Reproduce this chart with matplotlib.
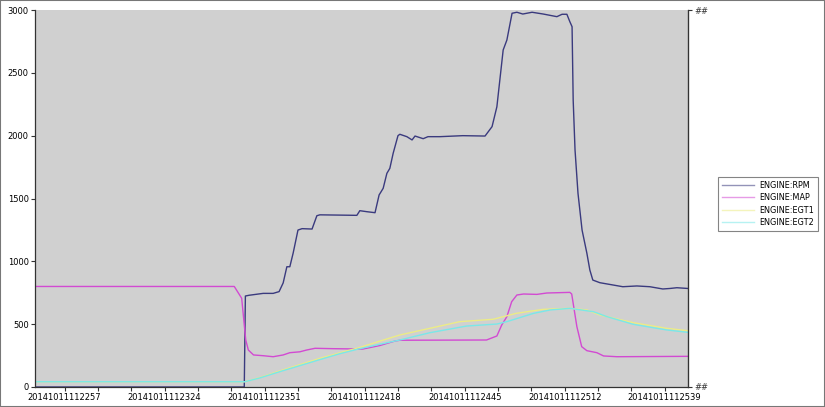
import matplotlib
matplotlib.use("Agg")
import matplotlib.pyplot as plt
from matplotlib.patches import Rectangle
from matplotlib.ticker import FuncFormatter, FixedLocator

# time axis: seconds after 11:22:49 on 2014-10-11
rpm_t = [0, 56.5, 56.8, 57.8, 61.6, 64.3, 65.9, 67.0, 68.0, 68.8, 69.7, 71.0, 72.1, 74.8, 76.1, 76.9,
         86.9, 87.7, 89.6, 91.8, 92.9, 94.0, 95.0, 95.8, 96.7, 98.0, 98.5, 100.4, 101.8, 102.6, 104.8,
         106.1, 109.3, 115.5, 121.5, 123.4, 124.7, 125.5, 126.4, 127.4, 128.8, 130.1, 131.7, 134.2,
         137.2, 140.9, 142.3, 143.6, 144.4, 145.0, 145.3, 145.8, 146.6, 147.7, 149.0, 149.8, 150.6,
         152.5, 156.0, 158.7, 162.5, 166.0, 169.5, 171.4, 173.3, 176.3]
rpm = [0, 0, 724, 730, 745, 745, 759, 828, 957, 957, 1066, 1249, 1260, 1257, 1363, 1370,
       1366, 1403, 1395, 1387, 1528, 1581, 1700, 1740, 1860, 2000, 2011, 1992, 1966, 1997, 1976,
       1992, 1992, 2000, 1997, 2072, 2230, 2443, 2682, 2761, 2974, 2982, 2968, 2982,
       2968, 2947, 2966, 2966, 2907, 2867, 2284, 1886, 1541, 1249, 1064, 931, 851,
       830, 812, 798, 804, 798, 780, 784, 790, 784]

map_t = [0, 53.8, 55.8, 56.9, 57.6, 59.0, 61.6, 64.3, 67.0, 68.8, 71.5, 73.3, 75.6, 80.4, 88.5,
         93.1, 97.1, 98.5, 121.9, 124.7, 126.0, 127.4, 128.7, 130.1, 131.9, 135.5, 138.2, 144.4,
         144.9, 146.3, 147.6, 149.0, 151.7, 153.5, 157.1, 176.3]
map_ = [800, 800, 706, 374, 294, 255, 249, 241, 255, 273, 280, 294, 308, 305, 302,
        330, 365, 372, 374, 406, 493, 560, 679, 732, 740, 737, 748, 753,
        740, 480, 321, 289, 273, 247, 241, 244]

egt1_t = [0, 56.7, 60.7, 66.1, 71.5, 76.9, 82.3, 87.7, 93.1, 98.5, 106.6, 114.7, 123.7, 129.9,
          137.2, 144.4, 149.0, 152.5, 161.5, 170.5, 176.3]
egt1 = [42, 42, 75, 128, 178, 228, 272, 315, 365, 414, 467, 520, 539, 586,
        618, 626, 613, 573, 512, 467, 448]

egt2_t = [0, 56.7, 60.7, 66.1, 71.5, 76.9, 82.3, 87.7, 93.1, 98.5, 106.6, 116.5, 124.7, 127.4,
          134.6, 139.1, 144.4, 150.8, 154.4, 161.5, 170.5, 176.3]
egt2 = [42, 42, 72, 122, 170, 218, 265, 305, 340, 374, 432, 485, 501, 520,
        586, 613, 626, 599, 560, 499, 454, 435]

series = [
    ("ENGINE:RPM", rpm_t, rpm, "#3a3a7e"),
    ("ENGINE:MAP", map_t, map_, "#d24ad2"),
    ("ENGINE:EGT1", egt1_t, egt1, "#ecec86"),
    ("ENGINE:EGT2", egt2_t, egt2, "#7ae8e8"),
]

fig = plt.figure(figsize=(8.25, 4.07), dpi=100)
ax = fig.add_axes([35 / 825, 20 / 407, 653 / 825, 377 / 407])
ax.set_facecolor("#d0d0d0")

for name, t, v, c in series:
    ax.plot(t, v, color=c, lw=1.0, label=name)

ax.set_xlim(0, 176.3)
ax.set_ylim(0, 3000)


def fmt_time(s, pos):
    s = int(round(s)) + 11 * 3600 + 22 * 60 + 49
    return "20141011%02d%02d%02d" % (s // 3600, (s // 60) % 60, s % 60)


ax.xaxis.set_major_locator(FixedLocator([8 + 27 * i for i in range(7)]))
ax.xaxis.set_minor_locator(FixedLocator([8 + 9 * i for i in range(20) if i % 3]))
ax.xaxis.set_major_formatter(FuncFormatter(fmt_time))
ax.set_yticks([0, 500, 1000, 1500, 2000, 2500, 3000])
ax.tick_params(axis="both", labelsize=6, length=3, width=0.8, colors="#333333", pad=1.5)
ax.tick_params(axis="x", which="minor", length=3, width=0.8, colors="#333333")
for lbl in ax.get_xticklabels() + ax.get_yticklabels():
    lbl.set_color("black")

ax.spines["top"].set_visible(False)
for sp in ("left", "bottom", "right"):
    ax.spines[sp].set_color("#333333")
    ax.spines[sp].set_linewidth(0.9)

ax2 = ax.twinx()
ax2.set_ylim(0, 3000)
ax2.set_yticks([0, 3000])
ax2.set_yticklabels(["##", "##"])
ax2.tick_params(axis="y", labelsize=6, length=3, width=0.8, colors="#333333", pad=1.5)
for sp in ("top", "left", "bottom"):
    ax2.spines[sp].set_visible(False)
ax2.spines["right"].set_color("#333333")

leg = ax.legend(loc="center left", bbox_to_anchor=(718 / 825, 1 - 204 / 407),
                bbox_transform=fig.transFigure, fontsize=5.9, frameon=True,
                fancybox=False, handlelength=4.0, handletextpad=0.6,
                borderpad=0.45, labelspacing=0.4, borderaxespad=0,
                edgecolor="#666666")
leg.get_frame().set_linewidth(0.8)
for line in leg.get_lines():
    line.set_alpha(0.55)

fig.patches.append(Rectangle((0, 0), 1, 1, transform=fig.transFigure, fill=False,
                             edgecolor="#777777", lw=1.5))

fig.savefig("out.png", dpi=100)
